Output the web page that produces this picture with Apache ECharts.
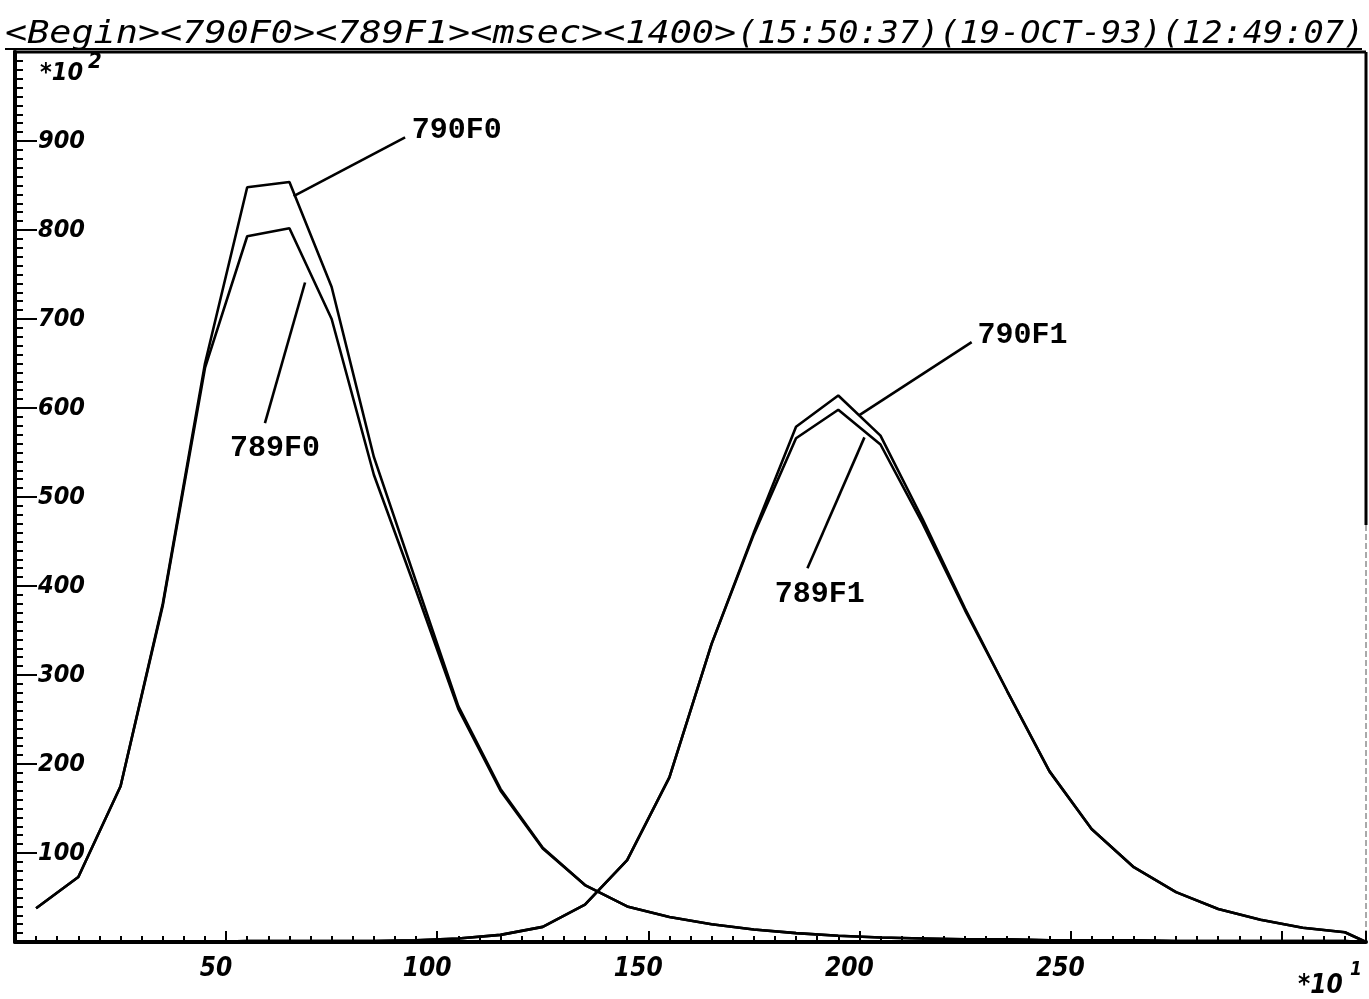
<!DOCTYPE html>
<html>
<head>
<meta charset="utf-8">
<title>790F0 789F1 msec 1400</title>
<script src="https://cdn.jsdelivr.net/npm/echarts@6/dist/echarts.min.js"></script>
<style>
  html, body { margin: 0; padding: 0; background: #fff; }
  #main { width: 1369px; height: 999px; }
</style>
</head>
<body>
<div id="main"></div>
<script>
// sample positions (x10^1 msec) and counts (x10^2)
var xValues = [5, 15, 25, 35, 45, 55, 65, 75, 85, 95, 105, 115, 125, 135, 145, 155, 165,
  175, 185, 195, 205, 215, 225, 235, 245, 255, 265, 275, 285, 295, 305, 315, 320];

var s790F0 = [38, 73, 175, 380, 650, 848, 854, 736, 545, 405, 265, 172, 106, 64, 40, 28, 20,
  14, 10, 7, 5, 4, 3, 3, 2, 2, 2, 1, 1, 1, 1, 1, 0];
var s789F0 = [38, 73, 175, 378, 645, 793, 802, 700, 525, 395, 262, 170, 105, 64, 40, 28, 20,
  14, 10, 7, 5, 4, 3, 3, 2, 2, 2, 1, 1, 1, 1, 1, 0];
var s790F1 = [0, 0, 0, 0, 0, 1, 1, 1, 1, 2, 4, 8, 17, 42, 92, 185, 335,
  460, 579, 614, 569, 475, 375, 282, 192, 127, 84, 56, 37, 25, 16, 11, 0];
var s789F1 = [0, 0, 0, 0, 0, 1, 1, 1, 1, 2, 4, 8, 17, 42, 92, 185, 335,
  458, 566, 598, 559, 470, 373, 282, 192, 127, 84, 56, 37, 25, 16, 11, 0];

var xTickLabels = ['50', '100', '150', '200', '250'];
var yTickLabels = ['100', '200', '300', '400', '500', '600', '700', '800', '900'];

function pairs(ys) {
  return xValues.map(function (x, i) { return [x, ys[i]]; });
}

var ink = '#000';
var digitFont = '"DejaVu Sans Condensed", "DejaVu Sans", sans-serif';
var monoFont = '"DejaVu Sans Mono", monospace';

function curve(name, ys) {
  return {
    name: name,
    type: 'line',
    data: pairs(ys),
    xAxisIndex: 0,
    yAxisIndex: 0,
    symbol: 'none',
    lineStyle: { color: ink, width: 2.6 }
  };
}

var myChart = echarts.init(document.getElementById('main'));

myChart.setOption({
  animation: false,
  backgroundColor: '#fff',
  grid: { left: 15, right: 2, top: 52, bottom: 57, show: false },
  xAxis: [{
    type: 'value', min: 0, max: 320, interval: 50, position: 'bottom',
    axisLine: { onZero: false, lineStyle: { color: ink, width: 4 } },
    axisTick: { inside: true, length: 11, lineStyle: { color: ink, width: 2 } },
    splitLine: { show: false },
    axisLabel: {
      margin: 14, color: ink, fontSize: 26, fontStyle: 'italic', fontWeight: 'bold',
      fontFamily: digitFont, padding: [0, 20, 0, 0],
      formatter: function (v) { return xTickLabels.indexOf(String(v)) >= 0 ? String(v) : ''; }
    }
  }, {
    // minor ticks every 5
    type: 'value', min: 0, max: 320, interval: 5, position: 'bottom',
    axisLine: { show: false },
    axisTick: { inside: true, length: 6, lineStyle: { color: ink, width: 2 } },
    axisLabel: { show: false },
    splitLine: { show: false }
  }],
  yAxis: {
    type: 'value', min: 0, max: 1000, interval: 100,
    axisLine: { onZero: false, lineStyle: { color: ink, width: 4 } },
    axisTick: { inside: true, length: 22, lineStyle: { color: ink, width: 2 } },
    minorTick: { show: true, splitNumber: 10, length: 8, lineStyle: { color: ink, width: 2 } },
    splitLine: { show: false },
    axisLabel: {
      inside: true, margin: 23, color: ink, fontSize: 25, fontStyle: 'italic', fontWeight: 'bold',
      fontFamily: digitFont,
      formatter: function (v) { return yTickLabels.indexOf(String(v)) >= 0 ? String(v) : ''; }
    }
  },
  series: [
    curve('790F0', s790F0),
    curve('789F0', s789F0),
    curve('790F1', s790F1),
    curve('789F1', s789F1)
  ]
});

// frame, header text and the curve callouts
function px(pt) { return myChart.convertToPixel({ seriesIndex: 0 }, pt); }

var tl = px([0, 1000]), br = px([320, 0]);
var g = [];
g.push({ type: 'line', shape: { x1: tl[0] - 2, y1: tl[1], x2: br[0], y2: tl[1] },
  style: { stroke: ink, lineWidth: 3 } });
g.push({ type: 'line', shape: { x1: br[0], y1: tl[1], x2: br[0], y2: 525 },
  style: { stroke: ink, lineWidth: 3 } });
g.push({ type: 'line', shape: { x1: br[0], y1: 525, x2: br[0], y2: br[1] },
  style: { stroke: '#555', lineWidth: 1, lineDash: [6, 3] } });

g.push({ type: 'text', x: 5, y: 35, scaleX: 1.15,
  style: { text: '<Begin><790F0><789F1><msec><1400>', font: 'italic 32px ' + monoFont,
    fill: ink, textVerticalAlign: 'middle' } });
g.push({ type: 'text', x: 737, y: 35, scaleX: 1.05,
  style: { text: '(15:50:37)(19-OCT-93)(12:49:07)', font: 'italic 32px ' + monoFont,
    fill: ink, textVerticalAlign: 'middle' } });
g.push({ type: 'line', shape: { x1: 5, y1: 49, x2: 1362, y2: 49 },
  style: { stroke: ink, lineWidth: 2 } });

g.push({ type: 'text', x: 40, y: 73,
  style: { text: '*10', font: 'italic bold 25px ' + digitFont, fill: ink, textVerticalAlign: 'middle' } });
g.push({ type: 'text', x: 88, y: 62,
  style: { text: '2', font: 'italic bold 22px ' + digitFont, fill: ink, textVerticalAlign: 'middle' } });
g.push({ type: 'text', x: 1298, y: 986,
  style: { text: '*10', font: 'italic bold 26px ' + digitFont, fill: ink, textVerticalAlign: 'middle' } });
g.push({ type: 'text', x: 1350, y: 970,
  style: { text: '1', font: 'italic bold 19px ' + digitFont, fill: ink, textVerticalAlign: 'middle' } });

var callouts = [
  { text: '790F0', from: [66, 838], to: [92.4, 904], at: [94, 912], align: 'left' },
  { text: '789F0', from: [68.7, 741], to: [59.2, 583], at: [61.6, 555], align: 'center' },
  { text: '790F1', from: [200, 592], to: [226.6, 674], at: [228, 681], align: 'left' },
  { text: '789F1', from: [201.2, 567], to: [187.7, 420], at: [190.6, 391], align: 'center' }
];
callouts.forEach(function (c) {
  var a = px(c.from), b = px(c.to), t = px(c.at);
  g.push({ type: 'line', shape: { x1: a[0], y1: a[1], x2: b[0], y2: b[1] },
    style: { stroke: ink, lineWidth: 2.6 } });
  g.push({ type: 'text', x: t[0], y: t[1],
    style: { text: c.text, font: 'bold 30px "Liberation Mono", "Courier New", monospace',
      fill: ink, textAlign: c.align, textVerticalAlign: 'middle' } });
});

myChart.setOption({ graphic: g });
</script>
</body>
</html>
